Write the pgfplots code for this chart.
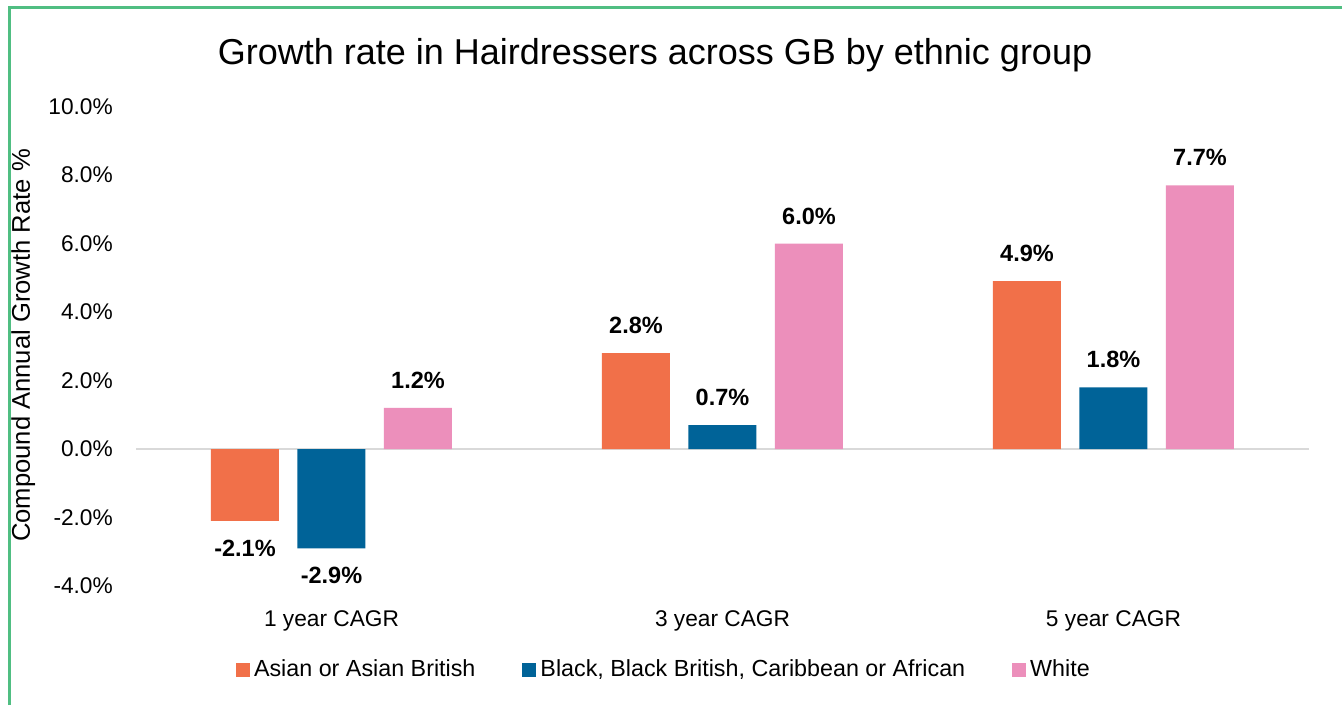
\documentclass[border=0pt]{standalone}
\usepackage{pgfplots}
\pgfplotsset{compat=1.18}
\usepackage{fontspec}
\setmainfont{Liberation Sans}
\definecolor{cOrange}{RGB}{241,112,73}
\definecolor{cBlue}{RGB}{0,99,152}
\definecolor{cPink}{RGB}{236,143,187}
\definecolor{cGreen}{RGB}{80,190,130}
\definecolor{cZero}{RGB}{217,217,217}
\begin{document}
\begin{tikzpicture}
\useasboundingbox (0pt,0pt) rectangle (1342pt,705pt);
\fill[white] (0pt,0pt) rectangle (1342pt,705pt);
\draw[cGreen, line width=2.6pt] (9.5pt,0pt) -- (9.5pt,697.5pt) -- (1342pt,697.5pt);
\node[anchor=base, inner sep=0pt, font=\fontsize{36}{43}\selectfont] at (655pt,640pt) {Growth rate in Hairdressers across GB by ethnic group};
\node[anchor=base, rotate=90, inner sep=0pt, font=\fontsize{25.6}{30}\selectfont] at (29.8pt,359.5pt) {Compound Annual Growth Rate \%};
\begin{axis}[
  at={(136pt,119pt)}, anchor=south west,
  scale only axis, width=1173pt, height=479.5pt,
  ybar=18.5pt, bar width=68pt,
  xmin=-0.5, xmax=2.5, ymin=-4, ymax=10,
  xtick={0,1,2}, xticklabels={1 year CAGR,3 year CAGR,5 year CAGR},
  ytick={-4,-2,0,2,4,6,8,10},
  axis line style={draw=none}, tick style={draw=none}, major tick length=0pt,
  /pgf/number format/assume math mode=true,
  yticklabel={\pgfmathprintnumber[fixed,fixed zerofill,precision=1]{\tick}\%},
  yticklabel style={font=\fontsize{22.7}{27}\selectfont, inner sep=0pt, anchor=east, xshift=-23pt},
  xticklabel style={font=\fontsize{22.7}{27}\selectfont, inner sep=0pt, anchor=base, yshift=-40.5pt},
  extra y ticks={0}, extra y tick labels={},
  extra y tick style={grid=major, major grid style={draw=cZero, line width=1.5pt}},
  clip=false,
  nodes near coords={\pgfmathprintnumber[fixed,fixed zerofill,precision=1]{\pgfplotspointmeta}\%},
  nodes near coords align={vertical},
  every node near coord/.append style={font=\fontsize{23.5}{28}\selectfont\bfseries, inner xsep=0pt, inner ysep=19pt, text=black},
  legend columns=3,
  legend image code/.code={\fill[#1] (0pt,-5.5pt) rectangle (13.5pt,8pt);},
  legend style={at={(axis description cs:0.0853,-0.1783)}, anchor=west, draw=none, fill=none,
    inner sep=0pt, outer sep=0pt, font=\fontsize{23.3}{28}\selectfont,
    nodes={inner sep=0pt, text height=16pt, text depth=5pt},
    /tikz/every even column/.append style={column sep=47pt},
    /tikz/every odd column/.append style={column sep=4.5pt}},
]
\addplot[fill=cOrange, draw=none] coordinates {(0,-2.1) (1,2.8) (2,4.9)};
\addplot[fill=cBlue, draw=none] coordinates {(0,-2.9) (1,0.7) (2,1.8)};
\addplot[fill=cPink, draw=none] coordinates {(0,1.2) (1,6.0) (2,7.7)};
\legend{Asian or Asian British,{Black, Black British, Caribbean or African},White}
\end{axis}
\end{tikzpicture}
\end{document}
